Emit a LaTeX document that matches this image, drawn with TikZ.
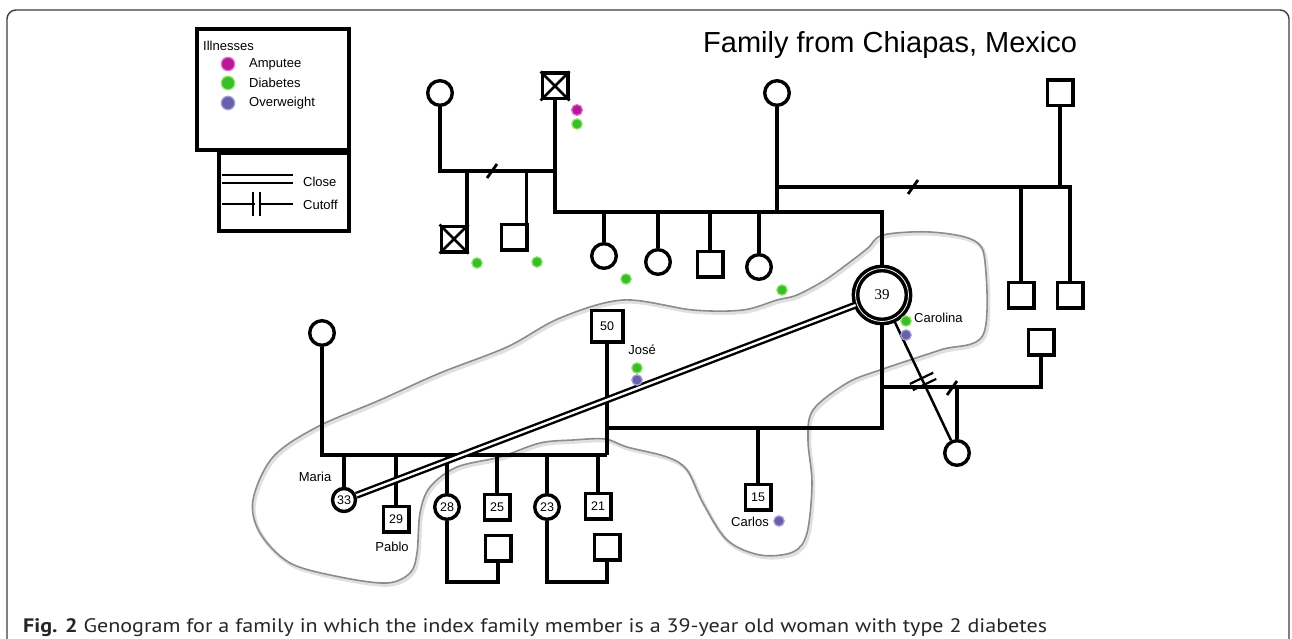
\documentclass[tikz,border=0pt]{standalone}
\usepackage{fontspec}
\setmainfont{Liberation Sans}
\newfontfamily\serifnum{Liberation Serif}
\newfontfamily\capfont{PT Sans}
\usetikzlibrary{calc}
\definecolor{amp}{RGB}{185,25,150}
\definecolor{ampl}{RGB}{225,120,205}
\definecolor{dia}{RGB}{55,190,40}
\definecolor{dial}{RGB}{150,230,110}
\definecolor{ovw}{RGB}{105,95,175}
\definecolor{ovwl}{RGB}{170,165,215}
\definecolor{cloudc}{RGB}{140,140,140}
\definecolor{framec}{RGB}{60,60,60}
\begin{document}
\begin{tikzpicture}[x=1pt,y=-1pt,
  lbl/.style={font=\fontsize{13}{15}\selectfont, inner sep=0},
  fem/.style={circle, draw, line width=3.4pt, minimum size=24.6pt, inner sep=0, fill=white, font=\fontsize{12.5}{14}\selectfont},
  mal/.style={rectangle, draw, line width=3.4pt, minimum size=25.6pt, inner sep=0, fill=white, font=\fontsize{12.5}{14}\selectfont},
  link/.style={line width=3.3pt, line join=miter},
  thinlink/.style={line width=2.5pt},
  slashmark/.style={line width=2.8pt},
  xline/.style={line width=2.6pt},
  dotA/.style={circle, fill=amp, draw=ampl, line width=1.2pt, minimum size=11pt, inner sep=0},
  dotD/.style={circle, fill=dia, draw=dial, line width=1.2pt, minimum size=10.5pt, inner sep=0},
  dotO/.style={circle, fill=ovw, draw=ovwl, line width=1.2pt, minimum size=10.5pt, inner sep=0},
  legdot/.style={minimum size=13.5pt},
  closeline/.style={draw=black, double=white, line width=2.4pt, double distance=2.3pt},
  cloudline/.style={draw=cloudc, line width=1.6pt},
  cloudshadow/.style={draw=black!12, line width=3.5pt}
]
\useasboundingbox (0,0) rectangle (1292,639);
\fill[white] (0,0) rectangle (1292,639);

% outer frame (open at the bottom)
\draw[framec, line width=1.4pt, rounded corners=9pt] (7,660) -- (7,10) -- (1289,10) -- (1289,660);

% cloud
\def\cloudpts{(623,300) (693,310) (743,310) (777,300) (797,295) (825,280) (850,262) (868,248) (883,235) (930,232) (973,240) (985,262) (983,335) (940,350) (880,370) (847,383) (813,410) (808,440) (812,483) (807,533) (793,552) (760,555) (727,540) (703,503) (687,470) (667,457) (627,447) (605,439) (573,440) (540,443) (500,457) (457,467) (430,487) (420,513) (417,553) (410,573) (387,583) (340,577) (290,563) (260,533) (253,500) (273,457) (317,427) (380,400) (440,373) (507,347) (560,318)}
\begin{scope}[shift={(1.5,2)}]
\draw[cloudshadow] plot[smooth cycle, tension=0.55] coordinates {\cloudpts};
\end{scope}
\draw[cloudline] plot[smooth cycle, tension=0.55] coordinates {\cloudpts};

% legend
\draw[line width=3.2pt] (197,29) rectangle (349,150);
\draw[line width=3.2pt] (219,153) rectangle (349,231);
\node[lbl, anchor=west] (legT) at (203,46) {Illnesses};
\node[dotA, legdot] (lA) at (228,64) {};
\node[dotD, legdot] (lD) at (228,83) {};
\node[dotO, legdot] (lO) at (228,103) {};
\node[lbl, anchor=west] (lAt) at (249,64) {Amputee};
\node[lbl, anchor=west] (lDt) at (249,83) {Diabetes};
\node[lbl, anchor=west] (lOt) at (249,103) {Overweight};
\coordinate (lc1) at (222,179);
\coordinate (lc2) at (293,179);
\draw[draw=black, double=white, line width=2.8pt, double distance=5.2pt] (lc1) -- (lc2);
\node[lbl, anchor=west] (lCt) at (303,182) {Close};
\coordinate (lu1) at (222,204);
\coordinate (lu2) at (293,204);
\draw[line width=2.8pt] (lu1) -- (lu2);
\draw[line width=2.3pt] (253,192) -- (253,216) (260,192) -- (260,216);
\fill[white] (254.5,199) rectangle (258.5,209);
\node[lbl, anchor=west] (lUt) at (303,205) {Cutoff};

% title
\node[anchor=base west, inner sep=0, font=\fontsize{29}{32}\selectfont] (title) at (703,53) {Family from Chiapas, Mexico};

% persons
\node[fem] (gm1) at (440,93) {};
\node[mal] (gf1) at (555,86) {};
\node[mal] (c1) at (454,239) {};
\node[mal] (c2) at (514,237) {};
\node[fem] (s1) at (604,256) {};
\node[fem] (s2) at (658,262) {};
\node[mal] (s3) at (710,264) {};
\node[fem] (s4) at (759,267) {};
\node[fem] (gm2) at (777,93) {};
\node[mal] (gf2) at (1060,93) {};
\node[mal] (u1) at (1021,295) {};
\node[mal] (u2) at (1070,295) {};
\node[mal] (sq3) at (1041,342) {};
\node[fem] (dau) at (957,453) {};
\node[mal, minimum size=31.6pt] (m50) at (607,326) {50};
\node[mal] (carlos) at (758,497) {15};
\node[fem] (mm) at (322,333) {};
\node[fem, minimum size=23pt] (c33) at (344,500) {33};
\node[mal] (c29) at (396,519) {29};
\node[fem] (c28) at (447,507) {28};
\node[mal] (c25) at (497,507) {25};
\node[fem] (c23) at (547,507) {23};
\node[mal] (c21) at (598,506) {21};
\node[mal] (g28) at (498,548) {};
\node[mal] (g23) at (607,547) {};
\node[circle, draw, fill=white, line width=3.5pt, double=white, double distance=0.8pt, minimum size=53pt, inner sep=0, font=\serifnum\fontsize{15}{17}\selectfont] (p39) at (882,295) {39};

% crosses for deceased
\draw[xline] (gf1.north west) -- (gf1.south east) (gf1.north east) -- (gf1.south west);
\draw[xline] (c1.north west) -- (c1.south east) (c1.north east) -- (c1.south west);

% junction coordinates
\coordinate (m1) at (555,171);
\coordinate (sib) at (555,212);
\coordinate (m2) at (777,187);
\coordinate (m2r) at (1070,187);
\coordinate (m50j) at (607,428);
\coordinate (mkid) at (607,455);
\coordinate (m3) at (1041,387);

% first marriage of gf1 (divorced)
\draw[link] (gm1.south) -- (gm1.south |- m1) -- (m1) -- (gf1.south);
\draw[link] ([xshift=-1.5pt]c1.north east) -- ([xshift=-1.5pt]c1.north east |- m1);
\draw[link] ([xshift=-2pt]c2.north east) -- ([xshift=-2pt]c2.north east |- m1);
\draw[slashmark] (487,178) -- (497,164);
% second marriage of gf1 with gm2
\draw[link] (m1) -- (sib) -- (p39.north |- sib) -- (p39.north);
\draw[link] (gm2.south) -- (gm2.south |- sib);
\foreach \k in {s1,s2,s3,s4} \draw[link] (\k.north) -- (\k.north |- sib);
% gm2 with gf2 (divorced)
\draw[link] (m2) -- (m2r) -- (u2.north);
\draw[link] (gf2.south) -- (gf2.south |- m2);
\draw[link] (u1.north) -- (u1.north |- m2);
\draw[slashmark] (908,194) -- (918,180);

% 39 with 50
\draw[link] (m50.south) -- (mkid);
\draw[link] (p39.south) -- (p39.south |- m50j) -- (m50j);
\draw[link] (carlos.north) -- (carlos.north |- m50j);
% 39 with sq3 (divorced)
\draw[link] (p39.south |- m3) -- (m3) -- (sq3.south);
\draw[link] (dau.north) -- (dau.north |- m3);
\draw[slashmark] (947,395) -- (957,381);
% cutoff 39 - daughter
\draw[thinlink] (p39) -- (dau);
\coordinate (cb) at ($(p39)!0.547!(dau)$);
\draw[line width=2.2pt] ([shift={(-1.5,-3.1)}]cb) ++(-11.7,5.6) -- ++(23.4,-11.2);
\draw[line width=2.2pt] ([shift={(1.5,3.1)}]cb) ++(-11.7,5.6) -- ++(23.4,-11.2);

% Maria's mother with 50
\draw[link] (mm.south) -- (mm.south |- mkid) -- (mkid);
\foreach \k in {c33,c29,c28,c25,c23,c21} \draw[link] (\k.north) -- (\k.north |- mkid);
\draw[link] (c28.south) -- (447,582) -- (g28.south |- 0,582) -- (g28.south);
\draw[link] (c23.south) -- (547,582) -- (g23.south |- 0,582) -- (g23.south);

% close relation 39 - 33
\draw[closeline] (p39) -- (c33);

% dots
\node[dotA] (dA1) at (577,110) {};
\node[dotD] (dD1) at (577,124) {};
\node[dotD] (dD2) at (477,263) {};
\node[dotD] (dD3) at (537,262) {};
\node[dotD] (dD4) at (626,279) {};
\node[dotD] (dD5) at (782,290) {};
\node[dotD] (dDj) at (637,368) {};
\node[dotO] (dOj) at (637,380) {};
\node[dotD] (dDc) at (906,321) {};
\node[dotO] (dOc) at (906,335) {};
\node[dotO] (dOk) at (779,521) {};

% name labels
\node[lbl] (nMaria) at (315,477) {Maria};
\node[lbl] (nPablo) at (392,547) {Pablo};
\node[lbl] (nJose) at (642,350) {José};
\node[lbl, anchor=west] (nCar) at (914,318) {Carolina};
\node[lbl] (nCarlos) at (750,522) {Carlos};

% caption
\node[anchor=base west, inner sep=0, text=black!85, font=\capfont\fontsize{19.5}{22}\selectfont] (cap) at (23,632) {\scalebox{1.133}[1]{\textbf{Fig. 2} Genogram for a family in which the index family member is a 39-year old woman with type 2 diabetes}};
\end{tikzpicture}
\end{document}
